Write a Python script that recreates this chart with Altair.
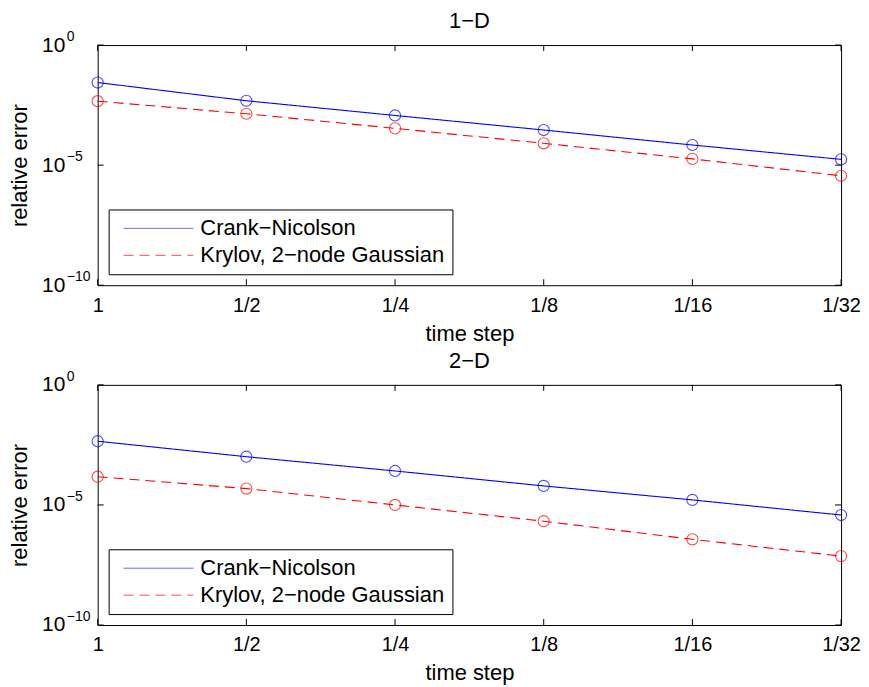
import altair as alt
import pandas as pd

# ---- data ----
steps = ["1", "1/2", "1/4", "1/8", "1/16", "1/32"]
series_names = ["Crank−Nicolson", "Krylov, 2−node Gaussian"]
cn_1d = [2.75e-2, 4.8e-3, 1.17e-3, 2.9e-4, 6.9e-5, 1.74e-5]
kr_1d = [4.6e-3, 1.38e-3, 3.4e-4, 8.1e-5, 1.82e-5, 3.6e-6]
cn_2d = [4.5e-3, 1.02e-3, 2.6e-4, 6.2e-5, 1.62e-5, 3.8e-6]
kr_2d = [1.5e-4, 4.8e-5, 1.0e-5, 2.1e-6, 3.7e-7, 7.4e-8]
y_ticks = [1e-10, 1e-5, 1.0]
y_tick_base = "10"
y_tick_exps = ["−10", "−5", "0"]
titles = ["1−D", "2−D"]

W, H = 746, 241
FONT = "Liberation Sans"
TICK = 6


def panel(title, cn, kr):
    df = pd.DataFrame({
        "step": steps * 2,
        "err": cn + kr,
        "method": [series_names[0]] * len(steps) + [series_names[1]] * len(steps),
    })
    x = alt.X("step:N", sort=steps,
              scale=alt.Scale(type="point", padding=0, domain=steps),
              axis=alt.Axis(title="time step", labelAngle=0, labelAlign="center",
                            ticks=False, domain=False,
                            labelPadding=20, titlePadding=8, labelFlush=False,
                            labelOverlap=False))
    y = alt.Y("err:Q",
              scale=alt.Scale(type="log", domain=[1e-10, 1]),
              axis=alt.Axis(title="relative error", values=y_ticks,
                            labelExpr=f"'{y_tick_base}'",
                            ticks=False, domain=False, grid=False,
                            labelPadding=33, titlePadding=10, labelFontSize=21))
    cscale = alt.Scale(domain=series_names, range=["#0000ff", "#ff0000"])
    lines = alt.Chart(df).mark_line(strokeWidth=1.1).encode(
        x=x, y=y,
        color=alt.Color("method:N", scale=cscale, legend=alt.Legend(title=None)),
        strokeDash=alt.StrokeDash("method:N",
                                  scale=alt.Scale(domain=series_names, range=[[1, 0], [10, 6]]),
                                  legend=alt.Legend(title=None)),
    )
    pts = alt.Chart(df).mark_point(shape="circle", filled=False, size=125, strokeWidth=1.1).encode(
        x=alt.X("step:N", sort=steps), y=alt.Y("err:Q"),
        color=alt.Color("method:N", scale=cscale),
    )
    xt = pd.DataFrame({"step": steps})
    yt = pd.DataFrame({"err": y_ticks, "exp": y_tick_exps})
    top_t = alt.Chart(xt).mark_rule(color="black", strokeWidth=1).encode(
        x=alt.X("step:N", sort=steps), y=alt.value(0), y2=alt.value(TICK))
    bot_t = alt.Chart(xt).mark_rule(color="black", strokeWidth=1).encode(
        x=alt.X("step:N", sort=steps), y=alt.value(H), y2=alt.value(H - TICK))
    left_t = alt.Chart(yt).mark_rule(color="black", strokeWidth=1).encode(
        y=alt.Y("err:Q"), x=alt.value(0), x2=alt.value(TICK))
    right_t = alt.Chart(yt).mark_rule(color="black", strokeWidth=1).encode(
        y=alt.Y("err:Q"), x=alt.value(W), x2=alt.value(W - TICK))
    exps = alt.Chart(yt).mark_text(align="left", baseline="middle", font=FONT,
                                   fontSize=14, color="black", dy=-8).encode(
        y=alt.Y("err:Q"), x=alt.value(-31), text="exp:N")
    return alt.layer(top_t, bot_t, left_t, right_t, exps, lines, pts).properties(
        width=W, height=H,
        title=alt.TitleParams(title, fontSize=22, font=FONT, fontWeight="normal",
                              color="black", offset=-3),
    )


chart = alt.vconcat(
    panel(titles[0], cn_1d, kr_1d),
    panel(titles[1], cn_2d, kr_2d),
    spacing=4,
).resolve_scale(color="independent", strokeDash="independent").properties(
    padding={"left": 0, "top": 0, "right": 0, "bottom": 0}
).configure_view(
    stroke="black", strokeWidth=1
).configure_axis(
    labelFont=FONT, titleFont=FONT, labelFontSize=20, titleFontSize=22,
    titleFontWeight="normal", labelColor="black", titleColor="black",
).configure_legend(
    orient="none", legendX=11, legendY=165, strokeColor="black", fillColor="white",
    padding=8, symbolType="M-5,0H5", symbolSize=196, symbolStrokeWidth=1,
    symbolFillColor="transparent", symbolOffset=31,
    labelFont=FONT, labelFontSize=22, labelColor="black", labelOffset=31,
    rowPadding=5, labelLimit=0, cornerRadius=0,
)

chart.save("out.html", embed_options={"renderer": "svg", "actions": False})
